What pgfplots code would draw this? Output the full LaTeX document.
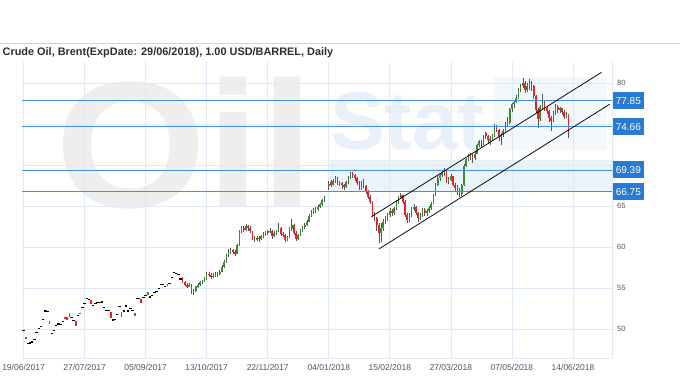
\documentclass[border=0pt]{standalone}
\usepackage{fontspec}
\setmainfont{Liberation Sans}
\usepackage{pgfplots}
\usepackage{pgfplotstable}
\pgfplotsset{compat=1.18}
\definecolor{gridblue}{RGB}{222,234,246}
\definecolor{lineblue}{RGB}{70,142,222}
\definecolor{boxblue}{RGB}{40,122,212}
\definecolor{upgreen}{RGB}{58,140,46}
\definecolor{dnred}{RGB}{238,32,32}
\definecolor{wick}{RGB}{85,85,85}
\definecolor{wmgray}{RGB}{238,238,238}
\definecolor{wmblue}{RGB}{232,241,250}
\definecolor{wmband}{RGB}{234,243,252}
\definecolor{wmfaint}{RGB}{244,248,253}
\definecolor{labgray}{RGB}{85,85,85}
\pgfplotstableread{
i o h l c
0 49.8 49.8 49.8 49.8
1 48.8 49.0 48.8 49.0
2 48.2 48.2 48.2 48.2
3 48.3 48.3 48.3 48.3
4 48.4 48.4 48.4 48.4
5 48.7 48.7 48.7 48.7
6 49.6 49.6 49.6 49.6
7 50.1 50.1 50.1 50.1
8 50.3 50.3 50.3 50.3
9 51.2 51.2 51.2 51.2
10 52.2 52.2 52.2 52.2
11 52.1 52.1 52.1 52.1
12 51.0 51.0 50.6 50.6
13 49.4 49.4 49.4 49.4
14 49.8 49.8 49.8 49.8
15 50.4 50.4 50.4 50.4
16 50.6 50.6 50.6 50.6
17 50.5 50.5 50.5 50.5
18 50.9 50.9 50.9 50.9
19 51.5 51.5 51.3 51.3
20 51.4 51.4 51.1 51.1
21 51.4 51.9 51.4 51.9
22 51.4 51.4 51.4 51.4
23 51.0 51.0 51.0 51.0
24 51.0 51.0 50.4 50.4
25 51.6 51.6 51.6 51.6
26 51.9 52.0 51.9 52.0
27 52.6 52.6 52.6 52.6
28 53.1 53.1 53.1 53.1
29 53.7 53.7 53.7 53.7
30 53.6 53.6 53.6 53.6
31 53.5 53.5 53.0 53.0
32 52.9 52.9 52.9 52.9
33 53.1 53.1 53.1 53.1
34 53.2 53.2 53.2 53.2
35 53.2 53.2 53.2 53.2
36 53.3 53.3 53.3 53.3
37 52.6 52.6 52.6 52.6
38 52.3 52.3 52.3 52.3
39 52.3 52.3 52.3 52.3
40 52.1 52.1 51.4 51.4
41 51.1 51.1 51.1 51.1
42 51.2 51.2 51.2 51.2
43 51.8 51.8 51.8 51.8
44 52.7 52.7 52.7 52.7
45 52.1 52.1 51.5 51.5
46 52.2 52.2 52.2 52.2
47 52.8 52.8 52.8 52.8
48 52.2 52.2 52.2 52.2
49 52.5 52.5 52.5 52.5
50 52.3 52.3 52.3 52.3
51 51.6 51.9 51.6 51.9
52 53.7 53.7 53.7 53.7
53 53.7 53.7 53.7 53.7
54 53.7 53.7 53.2 53.2
55 53.8 53.8 53.8 53.8
56 54.1 54.1 54.1 54.1
57 54.2 54.5 54.2 54.5
58 53.9 53.9 53.9 53.9
59 54.1 54.1 54.1 54.1
60 54.4 54.4 54.4 54.4
61 54.6 54.6 54.6 54.6
62 54.9 54.9 54.9 54.9
63 55.4 55.4 55.4 55.4
64 55.4 55.4 55.4 55.4
65 55.2 55.2 55.2 55.2
66 55.2 55.5 55.2 55.5
67 55.5 55.5 55.5 55.5
68 56.3 56.3 56.3 56.3
69 56.9 56.9 56.9 56.9
70 56.8 56.8 56.8 56.8
71 56.6 56.6 56.6 56.6
72 56.1 56.1 56.1 56.1
73 56.2 56.3 55.6 55.7
74 55.7 55.8 55.2 55.4
75 55.4 55.6 55.0 55.2
76 55.2 55.6 55.1 55.4
77 55.4 55.5 54.3 54.7
78 54.7 54.9 54.2 54.6
79 54.6 55.3 54.5 55.2
80 55.2 55.6 55.0 55.4
81 55.4 55.9 55.3 55.7
82 55.7 56.0 55.5 55.9
83 55.9 56.3 55.7 56.1
84 56.1 56.9 56.0 56.7
85 56.7 57.0 56.4 56.6
86 56.6 56.8 56.1 56.4
87 56.4 56.8 56.2 56.5
88 56.5 56.9 56.3 56.6
89 56.6 57.0 56.3 56.7
90 56.7 57.2 56.6 57.0
91 57.0 57.8 56.9 57.6
92 57.6 58.4 57.4 58.2
93 58.2 59.2 58.0 59.0
94 59.0 59.7 58.8 59.4
95 59.4 59.9 59.1 59.6
96 59.6 59.8 59.1 59.4
97 59.4 59.6 58.9 59.2
98 59.2 60.4 59.1 60.2
99 60.2 62.1 60.1 61.9
100 61.9 62.6 61.7 62.3
101 62.3 62.6 61.8 62.1
102 62.1 62.8 61.9 62.5
103 62.5 62.7 62.0 62.3
104 62.3 62.5 61.7 61.9
105 61.9 62.0 60.8 61.0
106 61.0 61.3 60.6 60.9
107 60.9 61.4 60.7 61.1
108 61.1 61.3 60.6 61.0
109 61.0 61.5 60.9 61.3
110 61.3 61.8 61.1 61.6
111 61.6 62.0 61.4 61.8
112 61.8 62.1 61.5 61.9
113 61.9 62.3 61.7 62.0
114 62.0 62.1 61.0 61.3
115 61.3 61.9 61.2 61.7
116 61.7 62.1 61.5 61.9
117 61.9 62.9 61.8 62.3
118 62.3 62.4 61.4 61.6
119 61.6 61.8 61.2 61.5
120 61.5 61.6 60.6 60.9
121 60.9 61.4 60.7 61.2
122 61.2 62.4 61.1 62.2
123 62.2 63.4 62.0 62.7
124 62.7 62.8 61.5 61.7
125 61.7 61.9 60.7 61.0
126 61.0 61.6 60.8 61.4
127 61.4 62.2 61.3 62.0
128 62.0 62.6 61.8 62.4
129 62.4 62.9 62.2 62.7
130 62.7 63.3 62.5 63.1
131 63.1 64.0 63.0 63.8
132 63.8 64.5 63.6 64.3
133 64.3 64.8 64.0 64.5
134 64.5 64.9 64.2 64.7
135 64.7 65.1 64.4 64.9
136 64.9 65.4 64.7 65.2
137 65.2 65.9 65.0 65.7
138 65.7 66.2 65.5 66.0
140 67.4 68.1 67.0 67.7
141 67.9 68.2 67.3 67.6
142 67.6 68.3 67.5 68.0
143 68.0 68.6 67.8 68.4
144 68.4 68.5 67.5 67.8
145 67.7 68.1 67.4 67.8
146 67.8 67.9 67.1 67.5
147 67.5 67.7 66.9 67.3
148 67.3 68.1 67.2 67.9
149 67.9 68.6 67.7 68.4
150 68.4 69.2 68.3 68.9
151 68.9 69.1 68.4 68.8
152 68.8 68.9 68.1 68.4
153 68.4 68.5 67.5 67.8
154 67.8 68.0 66.9 67.1
155 67.1 68.0 67.0 67.8
156 67.8 68.3 67.2 67.4
157 67.4 67.6 66.5 66.8
158 66.8 67.0 65.9 66.1
159 66.1 66.3 65.3 65.5
160 65.5 65.6 63.6 63.9
161 63.9 64.3 63.2 63.5
162 63.5 63.7 62.0 62.7
163 62.7 62.9 60.5 61.7
164 61.7 62.9 60.6 62.3
165 62.3 63.4 62.0 63.1
166 63.1 63.8 62.8 63.5
167 63.5 64.2 63.2 63.9
168 63.9 64.7 63.7 64.4
169 64.4 64.6 63.8 64.1
170 64.1 64.9 63.9 64.7
171 64.7 65.7 64.5 65.5
172 65.5 66.2 65.3 66.0
173 66.0 66.6 65.8 66.3
174 66.3 66.4 65.2 65.5
175 65.5 65.7 63.6 63.9
176 63.9 64.1 62.9 63.3
177 63.3 64.1 63.1 63.9
178 63.9 64.9 63.7 64.7
179 64.7 65.2 64.4 64.9
180 64.9 65.0 63.9 64.1
181 64.1 64.3 63.1 63.5
182 63.5 64.2 63.3 63.9
183 63.9 64.8 63.7 64.5
184 64.5 64.7 63.8 64.1
185 64.1 64.6 63.8 64.4
186 64.4 65.0 64.2 64.7
187 64.7 65.5 64.5 65.3
188 65.3 66.5 65.2 66.3
189 66.3 67.8 66.2 67.6
190 67.6 68.6 67.4 68.4
191 68.4 69.0 68.1 68.8
192 68.8 69.3 68.5 69.0
193 69.0 69.6 68.7 69.2
194 69.2 69.3 67.8 68.0
195 68.0 68.5 67.7 68.2
196 68.2 68.9 68.0 68.6
197 68.6 68.7 67.4 67.6
198 67.6 67.8 66.8 67.2
199 67.2 67.6 66.4 67.0
200 67.0 67.2 66.1 66.5
201 66.5 67.7 66.2 67.5
202 67.5 70.1 67.4 69.9
203 69.9 70.9 69.7 70.7
204 70.7 71.4 70.5 71.2
205 71.2 71.5 70.6 71.0
206 71.0 71.3 70.3 70.8
207 70.8 71.6 70.6 71.4
208 71.4 72.6 71.3 72.4
209 72.4 73.1 72.2 72.9
210 72.9 73.0 72.2 72.6
211 72.6 73.6 72.4 73.3
212 73.9 74.0 73.2 73.5
213 73.5 73.7 72.6 73.0
214 73.0 73.5 72.4 73.2
215 73.2 73.8 72.9 73.5
216 73.5 75.0 73.4 74.7
217 74.7 74.9 74.0 74.3
218 74.3 74.4 72.9 73.4
219 73.4 73.9 72.4 73.6
220 73.6 74.4 73.4 74.2
221 74.2 75.2 74.0 75.0
222 75.0 75.8 74.6 75.1
223 75.1 77.0 75.0 76.8
224 76.8 77.6 76.5 77.4
225 77.4 77.9 77.0 77.7
226 77.7 78.5 77.5 78.2
227 78.2 79.4 78.0 79.2
228 79.2 79.9 78.9 79.6
229 79.6 80.6 79.4 80.0
230 80.0 80.2 78.8 79.2
231 79.2 80.0 78.9 79.6
232 79.6 80.5 79.2 79.8
233 79.8 80.3 79.0 79.6
234 79.6 79.7 78.0 78.4
235 78.4 78.5 76.4 76.7
236 76.7 76.9 74.5 75.6
237 75.6 77.3 75.4 77.1
238 77.1 78.6 76.8 77.6
239 77.6 77.8 76.6 76.9
240 76.9 77.1 76.2 76.6
241 76.6 76.7 75.3 75.7
242 75.7 76.0 74.2 75.4
243 75.4 76.6 75.2 76.3
244 76.3 77.4 76.1 77.1
245 77.1 77.3 76.4 76.7
246 76.7 77.1 76.3 76.9
247 76.9 77.0 76.1 76.5
248 76.5 76.7 75.6 75.9
249 75.9 76.5 75.7 76.1
250 76.1 76.2 73.3 74.0
}\data
\begin{document}
\begin{tikzpicture}
\path[use as bounding box] (0,0) rectangle (680pt,380pt);
% watermark
\node[anchor=base west, inner sep=0pt, text=wmgray, font=\fontsize{180}{180}\selectfont\bfseries, xscale=1.08] at (55pt,172pt) {Oil};
\fill[wmfaint] (494pt,230pt) rectangle (607pt,303pt);
\fill[wmband] (330pt,188pt) rectangle (612pt,220pt);
\node[anchor=base west, inner sep=0pt, text=wmblue, font=\fontsize{82}{82}\selectfont\bfseries] at (330pt,230pt) {Stat};
% top separator and title
\draw[color={rgb,255:red,210;green,210;blue,210}, line width=0.8pt] (0pt,336.7pt) -- (680pt,336.7pt);
\node[anchor=base west, inner sep=0pt, text={rgb,255:red,45;green,45;blue,45}, font=\fontsize{10.9}{13}\selectfont\bfseries] at (2.5pt,324.7pt) {Crude Oil, Brent(ExpDate: 29/06/2018), 1.00 USD/BARREL, Daily};
\begin{axis}[
  at={(22pt,22pt)}, anchor=south west,
  scale only axis, width=590pt, height=296pt,
  xmin=-0.7, xmax=269.9, ymin=46.46, ymax=82.56,
  axis x line*=bottom, axis y line*=right,
  axis line style={draw=gridblue, line width=0.8pt},
  clip=false,
  grid=major, grid style={draw=gridblue, line width=0.7pt},
  major tick length=0pt,
  xtick={0,28,56,84,112,140,168,196,224,252},
  xticklabels={19/06/2017,27/07/2017,05/09/2017,13/10/2017,22/11/2017,04/01/2018,15/02/2018,27/03/2018,07/05/2018,14/06/2018},
  xticklabel style={anchor=north, inner sep=0pt, yshift=-6.5pt, font=\fontsize{8.5}{10}\selectfont, text=labgray},
  ytick={50,55,60,65,70,75,80},
  yticklabels={50,55,60,65,,,80},
  yticklabel style={anchor=west, inner sep=0pt, xshift=5pt, font=\fontsize{7.5}{9}\selectfont, text=labgray},
  /pgf/number format/assume math mode=true,
  candle/.style={only marks, mark=*, mark size=0pt, mark options={draw=none, fill=none}},
]
% wicks
\addplot[candle, error bars/.cd, y dir=both, y explicit, error mark=none,
  error bar style={line width=0.6pt, color=wick}]
  table[x=i, y expr=(\thisrow{h}+\thisrow{l})/2, y error expr=(\thisrow{h}-\thisrow{l})/2] {\data};
% up bodies
\addplot[candle, restrict expr to domain={\thisrow{c}-\thisrow{o}}{0.01:100},
  error bars/.cd, y dir=both, y explicit, error mark=none,
  error bar style={line width=1.6pt, color=upgreen}]
  table[x=i, y expr=(\thisrow{o}+\thisrow{c})/2, y error expr=(\thisrow{c}-\thisrow{o})/2] {\data};
% down bodies
\addplot[candle, restrict expr to domain={\thisrow{o}-\thisrow{c}}{0.01:100},
  error bars/.cd, y dir=both, y explicit, error mark=none,
  error bar style={line width=1.6pt, color=dnred}]
  table[x=i, y expr=(\thisrow{o}+\thisrow{c})/2, y error expr=(\thisrow{o}-\thisrow{c})/2] {\data};
% flat (dash) bars
\addplot[only marks, mark=-, mark size=1.2pt, mark options={line width=1.2pt, draw=black},
  restrict expr to domain={\thisrow{h}-\thisrow{l}}{-1:0.01}]
  table[x=i, y=c] {\data};
% level lines
\addplot[lineblue, line width=0.9pt] coordinates {(-0.7,77.85) (269.9,77.85)};
\addplot[lineblue, line width=0.9pt] coordinates {(-0.7,74.66) (269.9,74.66)};
\addplot[lineblue, line width=0.9pt] coordinates {(-0.7,69.39) (269.9,69.39)};
\addplot[lineblue, line width=0.9pt] coordinates {(-0.7,66.75) (269.9,66.75)};
% channel
\addplot[black, line width=0.75pt] coordinates {(159.6,63.7) (265.1,81.3)};
\addplot[black, line width=0.75pt] coordinates {(163.0,59.76) (268.8,77.4)};
\coordinate (L1) at (axis cs:269.9,77.85);
\coordinate (L2) at (axis cs:269.9,74.66);
\coordinate (L3) at (axis cs:269.9,69.39);
\coordinate (L4) at (axis cs:269.9,66.75);
\end{axis}
\tikzset{lbox/.style={anchor=west, fill=boxblue, text=white, inner sep=0pt, minimum width=31pt, minimum height=17pt, font=\fontsize{10}{12}\selectfont, xshift=0.6pt}}
\node[lbox] at (L1) {77.85};
\node[lbox] at (L2) {74.66};
\node[lbox] at (L3) {69.39};
\node[lbox] at (L4) {66.75};
\end{tikzpicture}
\end{document}
